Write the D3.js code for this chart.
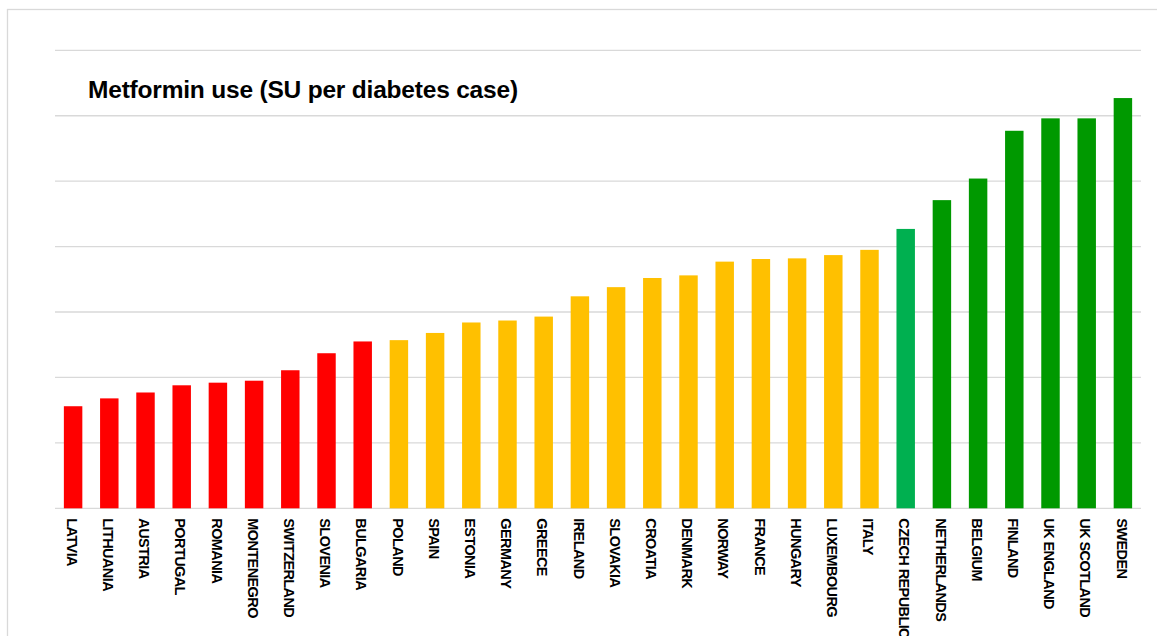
<!DOCTYPE html>
<html>
<head>
<meta charset="utf-8">
<script src="https://cdn.jsdelivr.net/npm/d3@7"></script>
<style>
  html, body { margin: 0; padding: 0; background: #ffffff; }
  svg { display: block; }
</style>
</head>
<body>
<svg id="chart" width="1157" height="636"></svg>
<script>
// ---- data ----
const countries = ["LATVIA","LITHUANIA","AUSTRIA","PORTUGAL","ROMANIA","MONTENEGRO","SWITZERLAND","SLOVENIA","BULGARIA",
  "POLAND","SPAIN","ESTONIA","GERMANY","GREECE","IRELAND","SLOVAKIA","CROATIA","DENMARK","NORWAY","FRANCE","HUNGARY",
  "LUXEMBOURG","ITALY","CZECH REPUBLIC","NETHERLANDS","BELGIUM","FINLAND","UK ENGLAND","UK SCOTLAND","SWEDEN"];
const values = [1.56,1.68,1.77,1.88,1.92,1.95,2.11,2.37,2.55,
  2.57,2.68,2.84,2.87,2.93,3.24,3.38,3.52,3.56,3.77,3.81,3.82,
  3.87,3.95,4.27,4.71,5.04,5.77,5.96,5.96,6.27];
const groups = ["low","low","low","low","low","low","low","low","low",
  "mid","mid","mid","mid","mid","mid","mid","mid","mid","mid","mid","mid",
  "mid","mid","czech","high","high","high","high","high","high"];
const groupColors = { low: "#ff0000", mid: "#ffc000", czech: "#00b050", high: "#009900" };
const yTicks = [0,1,2,3,4,5,6,7];
const title = "Metformin use (SU per diabetes case)";

// ---- layout ----
const svg = d3.select("#chart");
const plot = { left: 55, right: 1141, top: 50.3, bottom: 508.3 };

// outer frame
svg.append("rect")
  .attr("x", 7.5).attr("y", 9.5)
  .attr("width", 1170).attr("height", 700)
  .attr("fill", "none").attr("stroke", "#d9d9d9").attr("stroke-width", 1.3);

const x = d3.scaleBand()
  .domain(countries)
  .range([plot.left, plot.right])
  .paddingInner(0.49)
  .paddingOuter(0.245);

const y = d3.scaleLinear()
  .domain([0, 7])
  .range([plot.bottom, plot.top]);

// gridlines
svg.append("g")
  .selectAll("line")
  .data(yTicks)
  .join("line")
  .attr("x1", plot.left).attr("x2", plot.right)
  .attr("y1", d => y(d)).attr("y2", d => y(d))
  .attr("stroke", "#d9d9d9").attr("stroke-width", 1.3);

// bars
svg.append("g")
  .selectAll("rect")
  .data(countries.map((c, i) => ({ c, v: values[i], g: groups[i] })))
  .join("rect")
  .attr("x", d => x(d.c))
  .attr("width", x.bandwidth())
  .attr("y", d => y(d.v))
  .attr("height", d => y(0) - y(d.v))
  .attr("fill", d => groupColors[d.g]);

// x axis labels (rotated, reading top to bottom)
const xAxis = d3.axisBottom(x).tickSize(0).tickPadding(0);
const gx = svg.append("g")
  .attr("transform", `translate(0,${plot.bottom})`)
  .call(xAxis);
gx.select(".domain").remove();
gx.attr("font-size", null).attr("font-family", null);
gx.selectAll(".tick text")
  .attr("transform", "translate(-1,10) rotate(90)")
  .attr("x", 0).attr("y", 0).attr("dy", "0.36em")
  .attr("text-anchor", "start")
  .style("font-family", "'Liberation Sans', Arial, sans-serif")
  .style("font-weight", "bold")
  .style("font-size", "14.5px")
  .style("letter-spacing", "-0.6px")
  .attr("fill", "#000");

// title
svg.append("text")
  .attr("x", 88).attr("y", 98)
  .style("font-family", "'Liberation Sans', Arial, sans-serif")
  .style("font-weight", "bold")
  .style("font-size", "24.5px")
  .style("letter-spacing", "-0.2px")
  .attr("fill", "#000")
  .text(title);
</script>
</body>
</html>
